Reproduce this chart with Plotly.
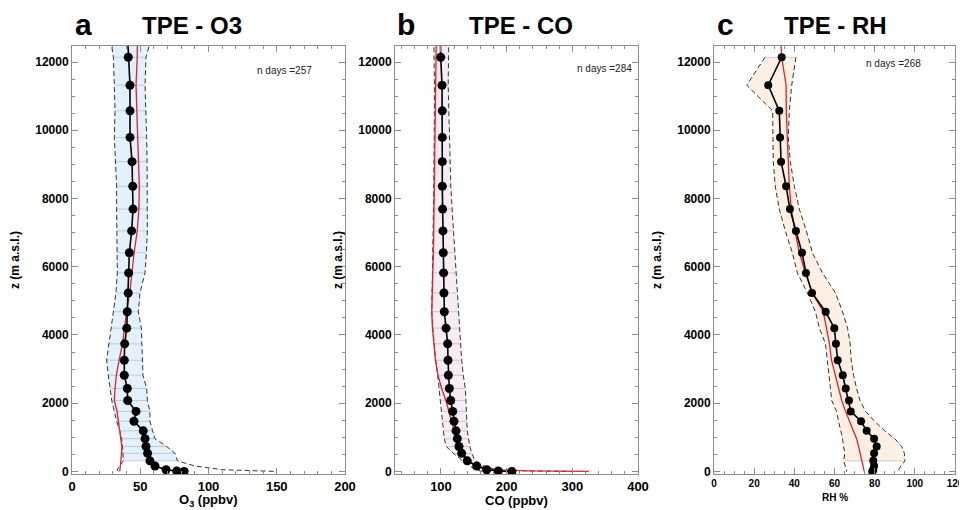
"""Vertical profiles of O3, CO and RH over TPE, three panels side by side."""

import plotly.graph_objects as go
from plotly.subplots import make_subplots


# altitude levels (m a.s.l.), shared by the three panels
Z_LEVELS = [12900, 12140, 11320, 10570, 9790, 9080, 8360, 7690, 7050, 6410,
            5820, 5230, 4680, 4200, 3740, 3260, 2820, 2430, 2080, 1760,
            1470, 1190, 960, 730, 530, 310, 160, 50, 15, 0]

# panel a: ozone (ppbv)
O3_MEAN = [40.5, 41.2, 42.5, 42.5, 42.5, 44.0, 44.5, 44.7, 43.7, 42.0,
           41.5, 41.2, 40.5, 40.1, 38.6, 38.3, 38.3, 40.5, 40.8, 46.9,
           45.4, 52.2, 53.5, 54.2, 55.4, 57.1, 60.8, 68.9, 76.7, 82.1]
O3_RED = [48.0, 47.8, 46.9, 47.4, 47.8, 48.5, 49.3, 49.0, 47.8, 45.5,
          43.7, 42.3, 40.0, 38.5, 37.0, 34.5, 32.5, 31.5, 31.0, 33.0,
          34.0, 35.2, 36.0, 36.5, 36.3, 35.7, 35.5, 35.2, 35.2, 35.0]
O3_LOW = [27.5, 30.3, 31.0, 31.5, 31.0, 31.8, 32.7, 32.7, 32.7, 33.0,
          33.2, 32.2, 30.3, 28.5, 27.0, 25.4, 26.6, 28.0, 29.1, 31.0,
          32.7, 35.0, 36.4, 37.0, 37.1, 37.6, 35.0, 33.0, 33.5, 34.0]
O3_HIGH = [59.5, 54.2, 53.5, 54.2, 54.7, 55.0, 55.2, 55.2, 55.2, 54.5,
           53.5, 49.8, 48.6, 50.8, 51.2, 51.5, 52.0, 54.7, 55.2, 57.1,
           57.1, 59.0, 60.8, 69.4, 75.5, 77.2, 90.0, 110.0, 135.0, 150.0]

# panel b: carbon monoxide (ppbv)
CO_MEAN = [99.0, 99.6, 101.6, 102.0, 102.0, 102.0, 102.0, 102.5, 103.0, 103.5,
           104.0, 104.5, 105.1, 107.7, 110.2, 110.7, 111.2, 112.7, 114.8, 117.9,
           119.8, 122.9, 124.9, 127.4, 131.5, 140.0, 154.4, 169.6, 187.3, 208.0]
CO_RED = [93.0, 92.5, 92.3, 92.0, 91.5, 91.0, 90.5, 90.0, 89.5, 88.5,
          87.5, 86.3, 86.0, 87.0, 89.0, 91.5, 95.5, 101.0, 107.5, 112.0,
          116.0, 120.0, 124.5, 129.0, 134.0, 142.0, 155.0, 180.0, 235.0, 325.0]
CO_LOW = [89.0, 89.9, 90.0, 90.0, 90.0, 89.5, 89.0, 88.5, 88.0, 87.5,
          87.0, 86.5, 86.0, 87.5, 89.5, 92.0, 95.0, 97.0, 98.5, 100.0,
          102.0, 103.5, 105.0, 108.0, 119.0, 133.0, 145.0, 152.0, 160.0, 165.0]
CO_HIGH = [112.0, 111.0, 111.0, 112.0, 113.0, 114.0, 115.0, 117.0, 119.0, 121.0,
           123.0, 125.0, 126.0, 128.5, 130.0, 131.5, 134.0, 137.0, 138.0, 139.0,
           139.5, 140.0, 142.0, 144.0, 147.0, 152.0, 165.0, 185.0, 230.0, 300.0]

# panel c: relative humidity (%)
RH_MEAN = [None, 33.7, 27.0, 32.5, 32.9, 33.4, 35.9, 37.8, 40.8, 43.8,
           45.8, 48.8, 55.6, 59.9, 60.7, 61.6, 64.1, 65.6, 67.2, 68.1,
           73.2, 76.0, 79.7, 81.0, 79.7, 79.3, 79.7, 79.3, 79.0, 78.8]
RH_RED = [33.0, 33.7, 35.9, 36.0, 36.5, 37.0, 37.5, 38.5, 40.3, 42.5,
          45.5, 49.0, 54.4, 56.0, 57.5, 58.5, 60.5, 62.0, 63.6, 65.5,
          67.5, 69.8, 71.0, 72.0, 72.8, 73.5, 74.0, 74.4, 74.6, 74.8]
RH_LOW = [None, 25.4, 16.3, 29.2, 29.2, 29.5, 30.5, 32.5, 35.5, 39.0,
          41.5, 46.5, 50.5, 52.5, 55.5, 56.5, 57.5, 58.0, 58.6, 61.0,
          62.0, 63.3, 64.0, 64.5, 65.2, 64.5, 65.5, 66.0, 66.0, 66.0]
RH_HIGH = [None, 40.8, 38.7, 37.5, 37.0, 38.0, 40.0, 42.5, 46.0, 49.0,
           54.0, 60.5, 64.0, 66.5, 67.8, 68.3, 69.5, 71.0, 72.7, 75.5,
           80.0, 85.0, 90.0, 93.5, 94.8, 95.1, 93.0, 92.0, 91.0, 90.5]

N_DAYS = [257, 284, 268]
PANEL_LETTERS = ["a", "b", "c"]
PANEL_TITLES = ["TPE - O3", "TPE - CO", "TPE - RH"]
X_TITLES = ["O<sub>3</sub> (ppbv)", "CO (ppbv)", "RH %"]
Y_TICKS = [0, 2000, 4000, 6000, 8000, 10000, 12000]

FILL_BOTTOM = 310
FONT = "Liberation Sans, Arial, sans-serif"

# the page body keeps its default 8px margin, so the figure is drawn
# 8px in from the window corner and is sized to fit the 967x510 window
PAGE_MARGIN = 8
W, H = 967 - PAGE_MARGIN, 510 - PAGE_MARGIN


def px_x(px):
    """window pixel column -> paper fraction"""
    return (px - PAGE_MARGIN) / W


def px_y(py):
    """window pixel row -> paper fraction"""
    return 1 - (py - PAGE_MARGIN) / H


PANELS = [
    dict(mean=O3_MEAN, red=O3_RED, low=O3_LOW, high=O3_HIGH,
         fill="#e2f1fb", rungs=True, xrange=[0, 200], dtick=50, minor=10,
         xdom=[72, 345], xtick_size=13, title_size=13, dot=9,
         nday_x=255, nday_y=70, zlab_x=15, letter_x=73, title_x=140),
    dict(mean=CO_MEAN, red=CO_RED, low=CO_LOW, high=CO_HIGH,
         fill="#f7ebf4", rungs=True, xrange=[30, 400], dtick=100, minor=20,
         xdom=[395, 638], xtick_size=13, title_size=13, dot=9,
         nday_x=575, nday_y=68, zlab_x=338, letter_x=395, title_x=467),
    dict(mean=RH_MEAN, red=RH_RED, low=RH_LOW, high=RH_HIGH,
         fill="#fcefe3", rungs=False, xrange=[0, 120], dtick=20, minor=5,
         xdom=[714, 955], xtick_size=10, title_size=10, dot=8,
         nday_x=864, nday_y=63, zlab_x=657, letter_x=715, title_x=782),
]

fig = make_subplots(rows=1, cols=3)

for i, p in enumerate(PANELS):
    col = i + 1

    # shaded band between the dashed envelopes
    band = [(z, lo, hi) for z, lo, hi in zip(Z_LEVELS, p["low"], p["high"])
            if lo is not None and z >= FILL_BOTTOM]
    bx = [b[1] for b in band] + [b[2] for b in reversed(band)]
    by = [b[0] for b in band] + [b[0] for b in reversed(band)]
    fig.add_trace(go.Scatter(x=bx, y=by, mode="lines", fill="toself",
                             fillcolor=p["fill"], line=dict(width=0),
                             hoverinfo="skip", showlegend=False),
                  row=1, col=col)

    # thin grey rungs across the band at each level
    rx, ry = [], []
    for z, lo, hi in band:
        if p["rungs"] or z == FILL_BOTTOM or z == band[0][0]:
            rx += [lo, hi, None]
            ry += [z, z, None]
    fig.add_trace(go.Scatter(x=rx, y=ry, mode="lines",
                             line=dict(color="#aab3bc", width=0.6),
                             hoverinfo="skip", showlegend=False),
                  row=1, col=col)

    # dashed envelopes
    for edge in (p["low"], p["high"]):
        fig.add_trace(go.Scatter(x=edge, y=Z_LEVELS, mode="lines",
                                 line=dict(color="#333333", width=1,
                                           dash="5px,3px"),
                                 showlegend=False),
                      row=1, col=col)

    # red reference profile
    fig.add_trace(go.Scatter(x=p["red"], y=Z_LEVELS, mode="lines",
                             line=dict(color="#e3202b", width=1.3),
                             showlegend=False),
                  row=1, col=col)

    # black mean profile with dots
    fig.add_trace(go.Scatter(x=p["mean"], y=Z_LEVELS, mode="lines+markers",
                             line=dict(color="black", width=1.6),
                             marker=dict(color="black", size=p["dot"]),
                             showlegend=False),
                  row=1, col=col)

    axis_common = dict(showline=True, linecolor="#8c8c8c", linewidth=1,
                       mirror="ticks", ticks="inside", tickcolor="#8c8c8c",
                       ticklen=6, showgrid=False, zeroline=False,
                       automargin=False)

    fig.update_xaxes(range=p["xrange"], dtick=p["dtick"], tick0=0,
                     domain=[px_x(p["xdom"][0]), px_x(p["xdom"][1])],
                     minor=dict(dtick=p["minor"], ticks="inside", ticklen=3,
                                tickcolor="#8c8c8c", showgrid=False),
                     tickfont=dict(family=FONT, size=p["xtick_size"],
                                   color="black", weight="bold"),
                     **axis_common, row=1, col=col)
    fig.update_yaxes(range=[-75, 12470], tickvals=Y_TICKS,
                     ticktext=[str(v) for v in Y_TICKS],
                     domain=[px_y(474), px_y(46)],
                     minor=dict(dtick=500, ticks="inside", ticklen=3,
                                tickcolor="#8c8c8c", showgrid=False),
                     tickfont=dict(family=FONT, size=12, color="black",
                                   weight="bold"),
                     **axis_common, row=1, col=col)

    x_mid = (p["xdom"][0] + p["xdom"][1]) / 2
    ann = [
        dict(text=PANEL_LETTERS[i], x=px_x(p["letter_x"]), y=px_y(25),
             xanchor="left", font=dict(size=30, weight="bold")),
        dict(text=PANEL_TITLES[i], x=px_x(p["title_x"]), y=px_y(26),
             xanchor="left", font=dict(size=24, weight="bold")),
        dict(text=X_TITLES[i], x=px_x(x_mid),
             y=px_y(500 if p["title_size"] > 11 else 497),
             xanchor="center",
             font=dict(size=p["title_size"], weight="bold")),
        dict(text="z (m a.s.l.)", x=px_x(p["zlab_x"]), y=px_y(260),
             xanchor="center", textangle=-90,
             font=dict(size=12, weight="bold")),
        dict(text="n days =%d" % N_DAYS[i], x=px_x(p["nday_x"]),
             y=px_y(p["nday_y"]), xanchor="left",
             font=dict(size=10, color="#222222")),
    ]
    for a in ann:
        a.setdefault("yanchor", "middle")
        a["font"].setdefault("family", FONT)
        a["font"].setdefault("color", "black")
        fig.add_annotation(xref="paper", yref="paper", showarrow=False, **a)

fig.update_layout(width=W, height=H, margin=dict(l=0, r=0, t=0, b=0),
                  paper_bgcolor="white", plot_bgcolor="white",
                  font=dict(family=FONT))

fig.write_html("out.html")
